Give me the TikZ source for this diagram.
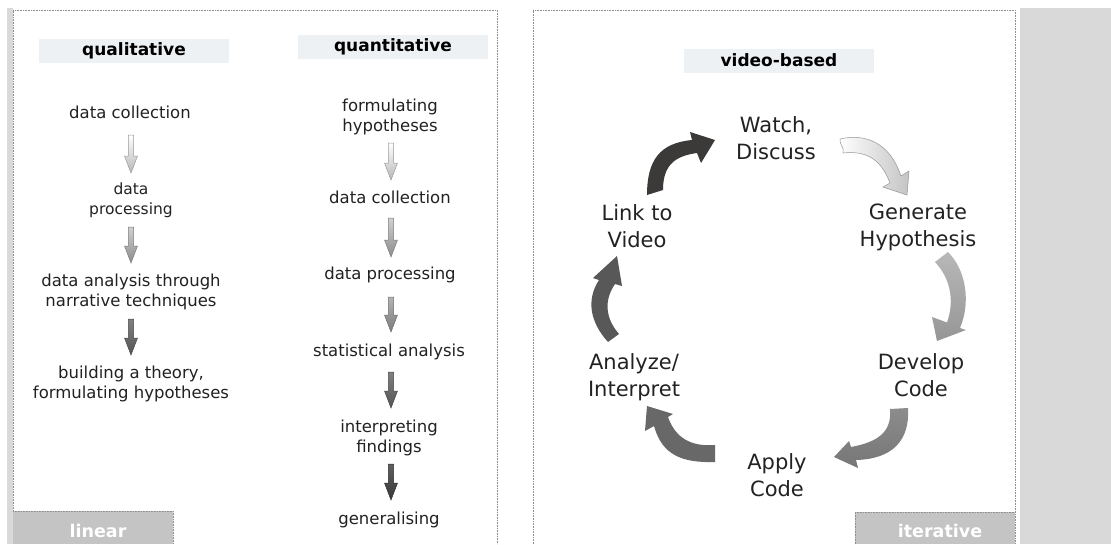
\documentclass[tikz,border=0pt]{standalone}
\usepackage{fontspec}
\setmainfont{DejaVu Sans}
\usetikzlibrary{calc}

\definecolor{txt}{HTML}{222222}
\definecolor{headfill}{HTML}{EEF1F4}
\definecolor{tabfill}{HTML}{C4C4C4}
\definecolor{side}{HTML}{D9D9D9}
\definecolor{frame}{HTML}{8E8E8E}
% flow arrow colours: upper, lower, outline
\definecolor{lightA}{HTML}{FFFFFF}\definecolor{lightB}{HTML}{B8B8B8}\definecolor{lightE}{HTML}{9A9A9A}
\definecolor{midA}{HTML}{D0D0D0}\definecolor{midB}{HTML}{8C8C8C}\definecolor{midE}{HTML}{7E7E7E}
\definecolor{gryA}{HTML}{B4B4B4}\definecolor{gryB}{HTML}{7A7A7A}\definecolor{gryE}{HTML}{6E6E6E}
\definecolor{dkA}{HTML}{808080}\definecolor{dkB}{HTML}{545454}\definecolor{dkE}{HTML}{4A4A4A}
\definecolor{vdA}{HTML}{606060}\definecolor{vdB}{HTML}{383838}\definecolor{vdE}{HTML}{303030}

\tikzset{
  panel/.style={draw=frame, densely dotted, line width=0.6pt},
  headbox/.style={fill=headfill, minimum width=190pt, minimum height=24pt, inner sep=0pt,
    font=\fontsize{17}{20}\selectfont\bfseries, text=black},
  stagetext/.style={align=center, text=txt, font=\fontsize{16.5}{20}\selectfont, inner sep=0pt},
  cycletext/.style={align=center, text=txt, font=\fontsize{21}{27}\selectfont, inner sep=0pt},
  tabtext/.style={text=white, font=\fontsize{17.5}{20}\selectfont\bfseries, inner sep=0pt},
  blockarrow/.style={line width=0.5pt}
}

% straight downward block arrow: #1 top point, #2 tip, #3 upper colour, #4 lower colour, #5 outline
\newcommand\flowarrow[5]{%
  \path[blockarrow, draw=#5, top color=#3, bottom color=#4]
    ($(#1)+(-2.7,0)$) -- ($(#1)+(2.7,0)$) -- ($(#2)+(2.7,-17)$) -- ($(#2)+(6.5,-17)$)
    -- (#2) -- ($(#2)+(-6.5,-17)$) -- ($(#2)+(-2.7,-17)$) -- cycle;}

\begin{document}
\begin{tikzpicture}[x=1pt, y=-1pt]
\useasboundingbox (0,0) rectangle (1111,544);
\fill[white] (0,0) rectangle (1111,544);

% side bands
\fill[side] (7,8) rectangle (13,544);
\fill[side] (1020,8) rectangle (1111,544);

% panel frames
\draw[panel] (13,544) -- (13,10) -- (497,10) -- (497,544);
\draw[panel] (533,544) -- (533,10) -- (1015,10) -- (1015,544);

% bottom tabs
\fill[tabfill] (13,511) rectangle (173,544);
\draw[panel] (13,511) -- (173,511) -- (173,544);
\node[tabtext] (linear) at (98,531) {linear};
\fill[tabfill] (855,512) rectangle (1015,544);
\draw[panel] (855,544) -- (855,512) -- (1015,512);
\node[tabtext] (iterative) at (940,531) {iterative};

% ---------- qualitative column ----------
\node[headbox] (qlhead) at (134,50.5) {qualitative};
\node[stagetext] (q1) at (130,112) {data collection};
\node[stagetext, font=\fontsize{15.5}{20}\selectfont] (q2) at (131,200) {data\\processing};
\node[stagetext] (q3) at (131,292) {data analysis through\\narrative techniques};
\node[stagetext] (q4) at (131,384) {building a theory,\\formulating hypotheses};

\flowarrow{131,135}{131,173}{lightA}{lightB}{lightE}
\flowarrow{131,227}{131,263}{midA}{midB}{midE}
\flowarrow{131,319}{131,355}{dkA}{dkB}{dkE}

% ---------- quantitative column ----------
\node[headbox] (qnhead) at (393,46.5) {quantitative};
\node[stagetext] (n1) at (390,117) {formulating\\hypotheses};
\node[stagetext] (n2) at (390,197) {data collection};
\node[stagetext] (n3) at (390,275) {data processing};
\node[stagetext] (n4) at (389,352) {statistical analysis};
\node[stagetext] (n5) at (389,438) {interpreting\\findings};
\node[stagetext] (n6) at (389,520) {generalising};

\flowarrow{391,143}{391,180}{lightA}{lightB}{lightE}
\flowarrow{391,218}{391,257}{midA}{midB}{midE}
\flowarrow{391,297}{391,332}{gryA}{gryB}{gryE}
\flowarrow{391,372}{391,408}{dkA}{dkB}{dkE}
\flowarrow{391,464}{391,500}{vdA}{vdB}{vdE}

% ---------- video-based cycle ----------
\node[headbox] (vhead) at (779,60.5) {video-based};
\node[cycletext] (watch) at (776,138.5) {Watch,\\Discuss};
\node[cycletext] (gen) at (918,227.5) {Generate\\Hypothesis};
\node[cycletext] (dev) at (921,375.5) {Develop\\Code};
\node[cycletext] (apply) at (777,475) {Apply\\Code};
\node[cycletext] (analyze) at (634,377.5) {Analyze/\\Interpret};
\node[cycletext] (link) at (637,226.5) {Link to\\Video};

% link -> watch
\path[fill={rgb,255:red,60;green,58;blue,56}]
  (647,195) .. controls (647,160) and (660,143) .. (692,140) -- (690,132) -- (715,140)
  -- (701,163) -- (697,153) .. controls (675,156) and (663,165) .. (663,190) -- cycle;
% watch -> generate
\path[blockarrow, draw={rgb,255:red,150;green,150;blue,150}, left color=white,
      right color={rgb,255:red,196;green,196;blue,196}]
  (840,139) .. controls (866,133) and (890,143) .. (901,176) -- (909,171) -- (907,195)
  -- (883,187) -- (890,183) .. controls (882,162) and (869,150) .. (843,153)
  .. controls (845,148) and (839,144) .. cycle;
% generate -> develop
\path[top color={rgb,255:red,184;green,184;blue,184}, bottom color={rgb,255:red,150;green,150;blue,150}]
  (948,252) .. controls (966,270) and (971,302) .. (960,328) -- (966,330) -- (937,341)
  -- (932,317) -- (947,322.5) .. controls (955,300) and (950,278) .. (935,262) -- cycle;
% develop -> apply
\path[top color={rgb,255:red,140;green,140;blue,140}, bottom color={rgb,255:red,118;green,118;blue,118}]
  (908,408) .. controls (910,440) and (893,459) .. (856,460) -- (858,468) -- (834,457)
  -- (849,441) -- (851,447) .. controls (878,442) and (892,432) .. (890,409) -- cycle;
% apply -> analyze
\path[fill={rgb,255:red,104;green,104;blue,104}]
  (715,445) .. controls (690,447) and (675,437) .. (668,417) -- (673,414) -- (647,406)
  -- (645,431) -- (654,426) .. controls (662,455) and (682,463) .. (715,462) -- cycle;
% analyze -> link
\path[fill={rgb,255:red,88;green,88;blue,88}]
  (608,342) .. controls (590,322) and (586,300) .. (599,280) -- (593,278) -- (617,256)
  -- (622,286) -- (615,284) .. controls (604,300) and (605,318) .. (619,334) -- cycle;
\end{tikzpicture}
\end{document}
